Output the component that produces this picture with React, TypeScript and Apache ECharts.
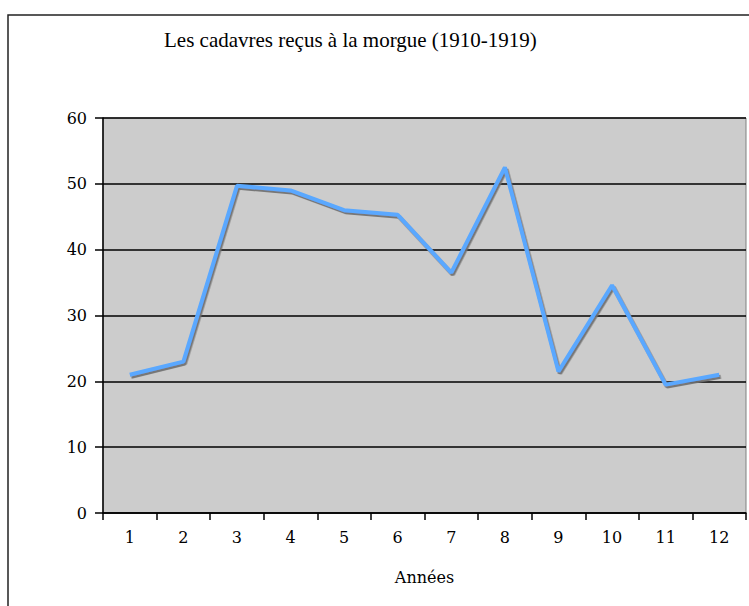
import React, { useEffect, useRef } from "react";
import * as echarts from "echarts";

const titleText = "Les cadavres reçus à la morgue (1910-1919)";
const xAxisName = "Années";
const categories = ["1", "2", "3", "4", "5", "6", "7", "8", "9", "10", "11", "12"];
const values = [21, 23, 49.7, 49, 46, 45.3, 36.5, 52.5, 21.5, 34.6, 19.5, 21];
const yMin = 0;
const yMax = 60;
const yInterval = 10;

export default function App() {
  const ref = useRef<HTMLDivElement>(null);
  useEffect(() => {
    if (!ref.current) return;
    const chart = echarts.init(ref.current, null, { renderer: "svg" });
    chart.setOption({
      animation: false,
      backgroundColor: "#ffffff",
      graphic: [
        {
          type: "rect",
          shape: { x: 8, y: 15, width: 800, height: 700 },
          style: { fill: "none", stroke: "#222", lineWidth: 1.5 },
          silent: true,
        },
      ],
      title: {
        text: titleText,
        left: 159,
        top: 24,
        textStyle: {
          fontFamily: "Liberation Serif",
          fontSize: 21,
          fontWeight: "normal",
          color: "#000",
        },
      },
      grid: {
        left: 103,
        top: 118,
        right: 3,
        bottom: 93,
        show: true,
        backgroundColor: "#cccccc",
        borderColor: "#808080",
        borderWidth: 1,
        containLabel: false,
      },
      xAxis: {
        type: "category",
        data: categories,
        boundaryGap: true,
        name: xAxisName,
        nameLocation: "middle",
        nameGap: 56,
        nameTextStyle: {
          fontFamily: "DejaVu Serif",
          fontSize: 16,
          color: "#000",
          verticalAlign: "top",
        },
        axisLine: { show: true, lineStyle: { color: "#000", width: 1.5 } },
        axisTick: { show: true, length: 7, inside: false, alignWithLabel: false, lineStyle: { color: "#000", width: 1.5 } },
        axisLabel: {
          margin: 16,
          fontFamily: "DejaVu Serif",
          fontSize: 16,
          color: "#000",
        },
        splitLine: { show: false },
      },
      yAxis: {
        type: "value",
        min: yMin,
        max: yMax,
        interval: yInterval,
        axisLine: { show: true, lineStyle: { color: "#000", width: 1.5 } },
        axisTick: { show: true, length: 8, inside: false, lineStyle: { color: "#000", width: 1.5 } },
        axisLabel: {
          margin: 16,
          fontFamily: "DejaVu Serif",
          fontSize: 16,
          color: "#000",
        },
        splitLine: { show: true, lineStyle: { color: "#000", width: 1.5 } },
      },
      series: [
        {
          type: "line",
          data: values,
          symbol: "none",
          lineStyle: {
            color: "#5aa8ff",
            width: 4,
            shadowColor: "rgba(110,110,110,0.9)",
            shadowBlur: 1,
            shadowOffsetX: 1.5,
            shadowOffsetY: 2,
          },
          z: 3,
        },
      ],
    });
    return () => chart.dispose();
  }, []);
  return (
    <div
      ref={ref}
      style={{ position: "absolute", left: 0, top: 0, width: 749, height: 606 }}
    />
  );
}
